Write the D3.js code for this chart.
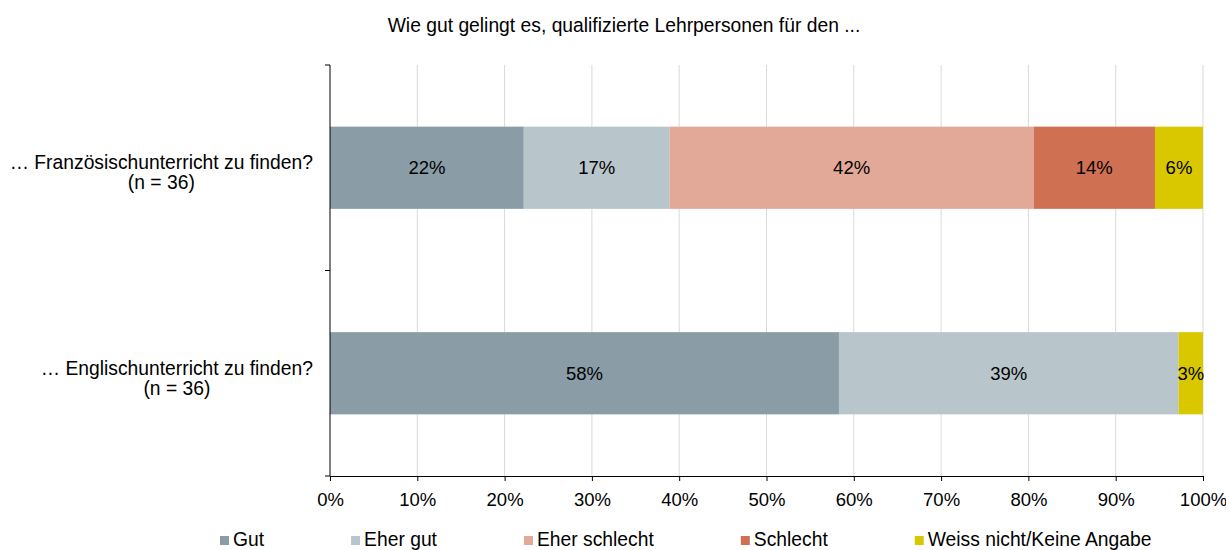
<!DOCTYPE html>
<html>
<head>
<meta charset="utf-8">
<script src="https://cdn.jsdelivr.net/npm/d3@7"></script>
<style>
  body { margin: 0; background: #fff; }
  svg { font-family: "Liberation Sans", Arial, sans-serif; }
  .grid line { stroke: #d9d9d9; stroke-width: 1; }
  .label { font-size: 19.3px; fill: #000; }
  .value { font-size: 18.5px; fill: #000; }
</style>
</head>
<body>
<svg id="chart"></svg>
<script>
// data (n = 36 per question)
const title = 'Wie gut gelingt es, qualifizierte Lehrpersonen für den ...';
const questions = ['… Französischunterricht zu finden?', '… Englischunterricht zu finden?'];
const sampleLabels = ['(n = 36)', '(n = 36)'];
const answers = ['Gut', 'Eher gut', 'Eher schlecht', 'Schlecht', 'Weiss nicht/Keine Angabe'];
const answerColors = ['#8a9da7', '#b8c5cb', '#e2a898', '#d07052', '#d9c800'];
const shares = [
  [0.222, 0.167, 0.417, 0.139, 0.055],
  [0.583, 0.389, 0, 0, 0.028],
];
const xTicks = [0, 0.1, 0.2, 0.3, 0.4, 0.5, 0.6, 0.7, 0.8, 0.9, 1];

const width = 1226;
const height = 550;
const margin = { top: 65, right: 23, bottom: 74, left: 330 };

const svg = d3.select('#chart')
  .attr('width', width)
  .attr('height', height);

const x = d3.scaleLinear()
  .domain([0, 1])
  .range([margin.left, width - margin.right]);

const y = d3.scaleBand()
  .domain(questions)
  .range([margin.top, height - margin.bottom])
  .paddingInner(0.6)
  .paddingOuter(0.3);

// title
svg.append('text')
  .attr('class', 'label')
  .attr('x', 624)
  .attr('y', 32)
  .attr('text-anchor', 'middle')
  .text(title);

// vertical gridlines
svg.append('g')
  .attr('class', 'grid')
  .selectAll('line')
  .data(xTicks.slice(1))
  .join('line')
  .attr('x1', (d) => x(d))
  .attr('x2', (d) => x(d))
  .attr('y1', margin.top)
  .attr('y2', height - margin.bottom);

// stacked bars
const rows = questions.map((q, i) => {
  let acc = 0;
  return shares[i].map((v, j) => {
    const seg = { q, answer: answers[j], color: answerColors[j], x0: acc, x1: acc + v, v };
    acc += v;
    return seg;
  });
});

const rowGroups = svg.append('g')
  .selectAll('g')
  .data(rows)
  .join('g');

rowGroups.selectAll('rect')
  .data((d) => d.filter((s) => s.v > 0))
  .join('rect')
  .attr('x', (d) => x(d.x0))
  .attr('y', (d) => y(d.q))
  .attr('width', (d) => x(d.x1) - x(d.x0))
  .attr('height', y.bandwidth())
  .attr('fill', (d) => d.color);

rowGroups.selectAll('text')
  .data((d) => d.filter((s) => s.v > 0))
  .join('text')
  .attr('class', 'value')
  .attr('x', (d) => (x(d.x0) + x(d.x1)) / 2)
  .attr('y', (d) => y(d.q) + y.bandwidth() / 2)
  .attr('dy', '0.35em')
  .attr('text-anchor', 'middle')
  .text((d) => `${Math.round(d.v * 100)}%`);

// x axis
const xAxis = svg.append('g')
  .attr('transform', `translate(0,${height - margin.bottom})`)
  .call(d3.axisBottom(x)
    .tickValues(xTicks)
    .tickFormat(d3.format('.0%'))
    .tickSize(5)
    .tickSizeOuter(0));
xAxis.select('.domain').attr('stroke', '#000');
xAxis.selectAll('.tick line').attr('stroke', '#000');
xAxis.selectAll('.tick text')
  .attr('class', 'value')
  .attr('y', 30)
  .attr('dy', 0)
  .attr('fill', '#000')
  .style('font-family', '"Liberation Sans", Arial, sans-serif');

// y axis line with ticks on the band edges
const yAxis = svg.append('g');
yAxis.append('line')
  .attr('x1', margin.left)
  .attr('x2', margin.left)
  .attr('y1', margin.top)
  .attr('y2', height - margin.bottom)
  .attr('stroke', '#000');
const bandEdges = [margin.top, ...questions.slice(1).map((q) => y(q) - y.step() * y.paddingInner() / 2), height - margin.bottom];
yAxis.selectAll('.ytick')
  .data(bandEdges)
  .join('line')
  .attr('class', 'ytick')
  .attr('x1', margin.left - 5)
  .attr('x2', margin.left)
  .attr('y1', (d) => d)
  .attr('y2', (d) => d)
  .attr('stroke', '#000');

// category labels: first line right aligned, second line centred under it
questions.forEach((q, i) => {
  const cy = y(q) + y.bandwidth() / 2;
  const line1 = svg.append('text')
    .attr('class', 'label')
    .attr('text-anchor', 'end')
    .attr('x', 313)
    .attr('y', cy + 1.5)
    .text(q);
  const w = line1.node().getComputedTextLength();
  svg.append('text')
    .attr('class', 'label')
    .attr('text-anchor', 'middle')
    .attr('x', 313 - w / 2)
    .attr('y', cy + 21.5)
    .text(sampleLabels[i]);
});

// legend
const legend = svg.append('g')
  .attr('transform', 'translate(220,0)');
let lx = 0;
answers.forEach((a, i) => {
  const item = legend.append('g').attr('transform', `translate(${lx},0)`);
  item.append('rect')
    .attr('x', 0)
    .attr('y', 536)
    .attr('width', 9)
    .attr('height', 9)
    .attr('fill', answerColors[i]);
  const t = item.append('text')
    .attr('class', 'label')
    .attr('x', 13)
    .attr('y', 545.5)
    .text(a);
  lx += 13 + t.node().getComputedTextLength() + 87;
});
</script>
</body>
</html>
